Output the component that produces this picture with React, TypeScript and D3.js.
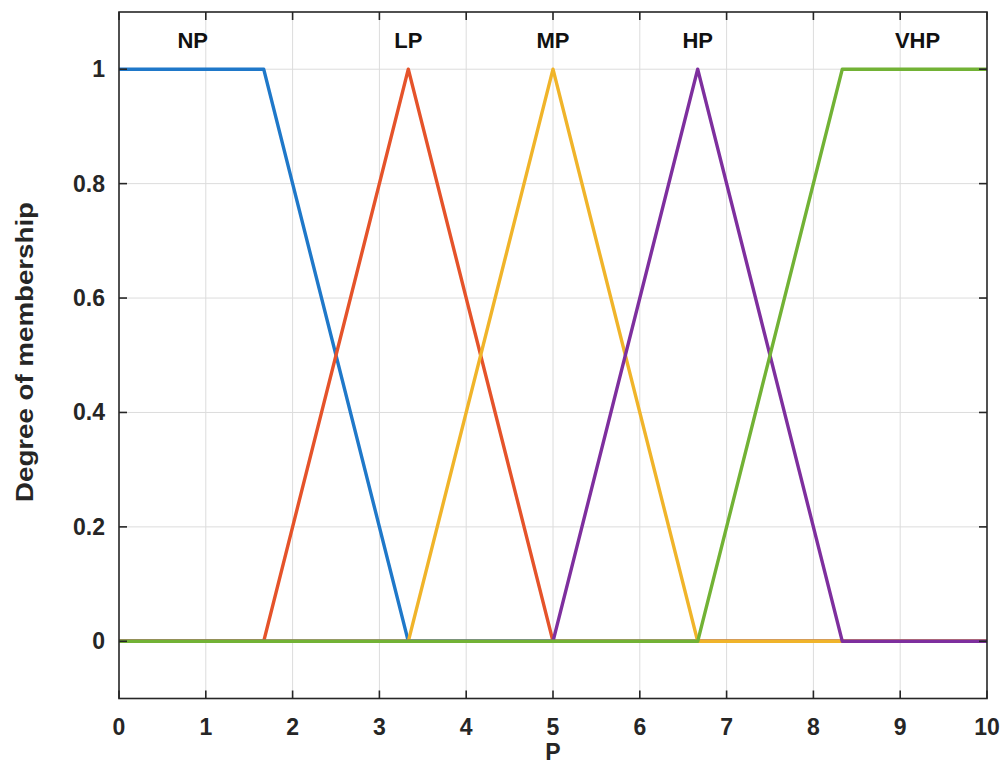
import React, { useEffect, useRef } from 'react';
import * as d3 from 'd3';

// membership functions for P (0..10)
const xTicks = [0, 1, 2, 3, 4, 5, 6, 7, 8, 9, 10];
const yTicks = [0, 0.2, 0.4, 0.6, 0.8, 1];
const yTickLabels = ['0', '0.2', '0.4', '0.6', '0.8', '1'];

const setNames = ['NP', 'LP', 'MP', 'HP', 'VHP'];
const setColors = ['#1f78c9', '#e5532a', '#f0b42a', '#7e2f9e', '#72b235'];
const npPoints: [number, number][] = [[0, 1], [1.667, 1], [3.333, 0], [10, 0]];
const lpPoints: [number, number][] = [[0, 0], [1.667, 0], [3.333, 1], [5, 0], [10, 0]];
const mpPoints: [number, number][] = [[0, 0], [3.333, 0], [5, 1], [6.667, 0], [10, 0]];
const hpPoints: [number, number][] = [[0, 0], [5, 0], [6.667, 1], [8.333, 0], [10, 0]];
const vhpPoints: [number, number][] = [[0, 0], [6.667, 0], [8.333, 1], [10, 1]];
const labelX = [0.85, 3.333, 5, 6.667, 9.2];

function App() {
  const svgRef = useRef<SVGSVGElement>(null);

  useEffect(() => {
    const svg = d3.select(svgRef.current);
    svg.selectAll('*').remove();

    const left = 119, right = 987, top = 12, bottom = 698.5;
    const x = d3.scaleLinear().domain([0, 10]).range([left, right]);
    const y = d3.scaleLinear().domain([-0.1, 1.1]).range([bottom, top]);
    const font = 'Liberation Sans, Arial, sans-serif';
    const fs = 23;

    svg.append('rect').attr('width', 1004).attr('height', 764).attr('fill', '#fff');

    // grid
    const grid = svg.append('g').attr('stroke', '#dcdcdc').attr('stroke-width', 1);
    xTicks.slice(1, -1).forEach((t) => {
      grid.append('line').attr('x1', x(t)).attr('x2', x(t)).attr('y1', top).attr('y2', bottom);
    });
    yTicks.forEach((t) => {
      grid.append('line').attr('x1', left).attr('x2', right).attr('y1', y(t)).attr('y2', y(t));
    });

    // lines
    const line = d3
      .line<[number, number]>()
      .x((d) => x(d[0]))
      .y((d) => y(d[1]));
    const sets = [npPoints, lpPoints, mpPoints, hpPoints, vhpPoints];
    sets.forEach((pts, i) => {
      svg
        .append('path')
        .attr('d', line(pts))
        .attr('fill', 'none')
        .attr('stroke', setColors[i])
        .attr('stroke-width', 3.4)
        .attr('stroke-linejoin', 'round');
    });

    // set labels
    setNames.forEach((n, i) => {
      svg
        .append('text')
        .attr('x', x(labelX[i]))
        .attr('y', 48)
        .attr('text-anchor', 'middle')
        .attr('font-family', font)
        .attr('font-weight', 'bold')
        .attr('font-size', 22)
        .attr('fill', '#111')
        .text(n);
    });

    // box + inward ticks
    const ax = svg.append('g').attr('stroke', '#262626').attr('stroke-width', 1.6);
    ax.append('rect')
      .attr('x', left).attr('y', top)
      .attr('width', right - left).attr('height', bottom - top)
      .attr('fill', 'none');
    xTicks.forEach((t) => {
      ax.append('line').attr('x1', x(t)).attr('x2', x(t)).attr('y1', bottom).attr('y2', bottom - 8);
      ax.append('line').attr('x1', x(t)).attr('x2', x(t)).attr('y1', top).attr('y2', top + 8);
    });
    yTicks.forEach((t) => {
      ax.append('line').attr('x1', left).attr('x2', left + 8).attr('y1', y(t)).attr('y2', y(t));
      ax.append('line').attr('x1', right).attr('x2', right - 8).attr('y1', y(t)).attr('y2', y(t));
    });

    // tick labels
    xTicks.forEach((t) => {
      svg
        .append('text')
        .attr('x', x(t))
        .attr('y', 735)
        .attr('text-anchor', 'middle')
        .attr('font-family', font)
        .attr('font-weight', 'bold')
        .attr('font-size', fs)
        .attr('fill', '#262626')
        .text(String(t));
    });
    yTicks.forEach((t, i) => {
      svg
        .append('text')
        .attr('x', left - 14)
        .attr('y', y(t) + 8)
        .attr('text-anchor', 'end')
        .attr('font-family', font)
        .attr('font-weight', 'bold')
        .attr('font-size', fs)
        .attr('fill', '#262626')
        .text(yTickLabels[i]);
    });

    // axis titles
    svg
      .append('text')
      .attr('x', x(5))
      .attr('y', 760)
      .attr('text-anchor', 'middle')
      .attr('font-family', font)
      .attr('font-weight', 'bold')
      .attr('font-size', fs)
      .attr('fill', '#262626')
      .text('P');
    svg
      .append('text')
      .attr('transform', `translate(33,352) rotate(-90)`)
      .attr('text-anchor', 'middle')
      .attr('font-family', font)
      .attr('font-weight', 'bold')
      .attr('font-size', fs)
      .attr('textLength', 300)
      .attr('lengthAdjust', 'spacingAndGlyphs')
      .attr('fill', '#262626')
      .text('Degree of membership');
  }, []);

  return (
    <div style={{ position: 'absolute', left: 0, top: 0 }}>
      <svg ref={svgRef} width={1004} height={764} style={{ display: 'block' }}></svg>
    </div>
  );
}

export default App;
